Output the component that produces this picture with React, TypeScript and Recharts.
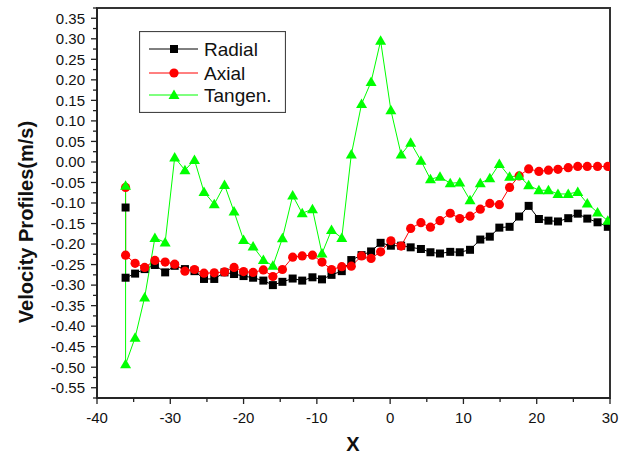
import React from 'react';
import { LineChart, Line, XAxis, YAxis, Legend, ReferenceArea } from 'recharts';

// positions along the channel (X)
const xValues = [
    -36.1, -34.8, -33.5, -32.1, -30.7, -29.4, -28.0, -26.7, -25.4, -24.0,
    -22.6, -21.3, -20.0, -18.7, -17.3, -16.0, -14.7, -13.3, -12.0, -10.6,
    -9.3, -8.0, -6.6, -5.3, -3.9, -2.6, -1.3, 0.1, 1.5, 2.8,
    4.2, 5.5, 6.8, 8.2, 9.5, 10.9, 12.3, 13.6, 14.9, 16.3,
    17.6, 18.9, 20.3, 21.6, 22.9, 24.3, 25.6, 26.9, 28.3, 29.7,
];

// each series starts with a separate reading at the first position
const radialFirst = -0.111;
const axialFirst = -0.062;
const tangenFirst = -0.058;

const radial = [
    -0.282, -0.272, -0.261, -0.251, -0.269, -0.253, -0.261, -0.266, -0.285, -0.285,
    -0.269, -0.273, -0.278, -0.282, -0.289, -0.300, -0.292, -0.284, -0.289, -0.281,
    -0.286, -0.275, -0.266, -0.239, -0.227, -0.218, -0.197, -0.204, -0.204, -0.208,
    -0.212, -0.220, -0.223, -0.219, -0.220, -0.214, -0.189, -0.182, -0.160, -0.158,
    -0.133, -0.107, -0.139, -0.143, -0.145, -0.137, -0.126, -0.138, -0.147, -0.158,
];

const axial = [
    -0.227, -0.247, -0.257, -0.240, -0.244, -0.249, -0.266, -0.262, -0.271, -0.270,
    -0.268, -0.257, -0.267, -0.269, -0.263, -0.279, -0.262, -0.232, -0.229, -0.227,
    -0.244, -0.262, -0.255, -0.254, -0.229, -0.235, -0.219, -0.192, -0.205, -0.162,
    -0.148, -0.159, -0.143, -0.125, -0.138, -0.132, -0.115, -0.101, -0.104, -0.062,
    -0.034, -0.017, -0.023, -0.020, -0.018, -0.014, -0.011, -0.011, -0.011, -0.011,
];

const tangen = [
    -0.493, -0.428, -0.330, -0.185, -0.196, 0.011, -0.020, 0.005, -0.073, -0.103,
    -0.056, -0.121, -0.190, -0.206, -0.239, -0.253, -0.186, -0.082, -0.125, -0.115,
    -0.223, -0.166, -0.185, 0.018, 0.141, 0.195, 0.295, 0.126, 0.018, 0.047,
    0.003, -0.042, -0.036, -0.052, -0.050, -0.093, -0.052, -0.040, -0.005, -0.036,
    -0.034, -0.057, -0.069, -0.069, -0.078, -0.078, -0.073, -0.101, -0.123, -0.143,
];

const xTicks = [-40, -35, -30, -25, -20, -15, -10, -5, 0, 5, 10, 15, 20, 25, 30];
const yTicks = [
    -0.575, -0.55, -0.525, -0.5, -0.475, -0.45, -0.425, -0.4, -0.375, -0.35,
    -0.325, -0.3, -0.275, -0.25, -0.225, -0.2, -0.175, -0.15, -0.125, -0.1,
    -0.075, -0.05, -0.025, 0, 0.025, 0.05, 0.075, 0.1, 0.125, 0.15,
    0.175, 0.2, 0.225, 0.25, 0.275, 0.3, 0.325, 0.35, 0.375,
];

const FONT = '"Liberation Sans", Arial, Helvetica, sans-serif';
const AXIS = '#222';

const toPoints = (first: number, values: number[]) => [
    { x: xValues[0], y: first },
    ...values.map((y, i) => ({ x: xValues[i], y })),
];

const radialData = toPoints(radialFirst, radial);
const axialData = toPoints(axialFirst, axial);
const tangenData = toPoints(tangenFirst, tangen);

const Square = ({ cx, cy, fill, size = 8 }: any) => (
    <rect x={cx - size / 2} y={cy - size / 2} width={size} height={size} fill={fill} />
);
const Dot = ({ cx, cy, fill }: any) => <circle cx={cx} cy={cy} r={4.6} fill={fill} />;
const Tri = ({ cx, cy, fill }: any) => (
    <polygon points={`${cx},${cy - 5.5} ${cx - 5.5},${cy + 4} ${cx + 5.5},${cy + 4}`} fill={fill} />
);

const YTick = ({ x, y, payload }: any) => {
    const v = payload.value;
    const major = Math.round(v * 1000) % 50 === 0;
    return (
        <g>
            <line x1={x - (major ? 6 : 4)} x2={x} y1={y} y2={y} stroke={AXIS} strokeWidth={1.3} />
            {major && (
                <text x={x - 12} y={y} dy={5.3} textAnchor="end" fontSize={15} fontFamily={FONT} fill="#111">
                    {v.toFixed(2)}
                </text>
            )}
        </g>
    );
};

const XTick = ({ x, y, payload }: any) => {
    const v = payload.value;
    const major = v % 10 === 0;
    return (
        <g>
            <line x1={x} x2={x} y1={y} y2={y + (major ? 6 : 4)} stroke={AXIS} strokeWidth={1.3} />
            {major && (
                <text x={x} y={y + 25} textAnchor="middle" fontSize={15} fontFamily={FONT} fill="#111">
                    {v}
                </text>
            )}
        </g>
    );
};

const LegendBox = () => {
    const rows = [
        { name: 'Radial', color: '#000', y: 18, mark: 'sq' },
        { name: 'Axial', color: '#ff0000', y: 42, mark: 'ci' },
        { name: 'Tangen.', color: '#00ff00', y: 64, mark: 'tr' },
    ];
    return (
        <svg width={147} height={82} style={{ display: 'block' }}>
            <rect x={0.5} y={0.5} width={146} height={81} fill="#fff" stroke="#444" strokeWidth={1.2} />
            {rows.map((r) => (
                <g key={r.name}>
                    <line x1={10} x2={59} y1={r.y} y2={r.y} stroke={r.color} strokeWidth={1} />
                    {r.mark === 'sq' && <Square cx={35} cy={r.y} fill={r.color} />}
                    {r.mark === 'ci' && <Dot cx={35} cy={r.y} fill={r.color} />}
                    {r.mark === 'tr' && <Tri cx={35} cy={r.y} fill={r.color} />}
                    <text x={65} y={r.y + 7} fontSize={19} fontFamily={FONT} fill="#111">
                        {r.name}
                    </text>
                </g>
            ))}
        </svg>
    );
};

const yTitle = () => (
    <text x={33} y={222} transform="rotate(-90, 33, 222)" textAnchor="middle" fontSize={20}
        fontWeight="bold" fontFamily={FONT} fill="#111">
        Velocity Profiles(m/s)
    </text>
);

const xTitle = () => (
    <text x={353} y={451} textAnchor="middle" fontSize={20} fontWeight="bold" fontFamily={FONT} fill="#111">
        X
    </text>
);

export default function App() {
    return (
        <div style={{ position: 'absolute', left: 0, top: 0, width: 629, height: 456, background: '#fff' }}>
            <LineChart width={629} height={456} margin={{ top: 8, right: 19, bottom: 0, left: 0 }}>
                <XAxis
                    type="number"
                    dataKey="x"
                    domain={[-40, 30]}
                    ticks={xTicks}
                    interval={0}
                    height={58}
                    tickSize={0}
                    tickMargin={0}
                    tickLine={false}
                    tick={<XTick />}
                    axisLine={{ stroke: AXIS, strokeWidth: 1.6 }}
                    label={xTitle}
                    allowDataOverflow
                />
                <YAxis
                    type="number"
                    dataKey="y"
                    domain={[-0.575, 0.375]}
                    ticks={yTicks}
                    interval={0}
                    width={97}
                    tickSize={0}
                    tickMargin={0}
                    tickLine={false}
                    tick={<YTick />}
                    axisLine={{ stroke: AXIS, strokeWidth: 1.6 }}
                    label={yTitle}
                    allowDataOverflow
                />
                <ReferenceArea x1={-40} x2={30} y1={-0.575} y2={0.375} fill="none" stroke="#333" strokeWidth={2} />
                <Line data={radialData} dataKey="y" stroke="#000" strokeWidth={1}
                    dot={(p: any) => <Square key={`r${p.index}`} cx={p.cx} cy={p.cy} fill="#000" />}
                    activeDot={false} isAnimationActive={false} />
                <Line data={axialData} dataKey="y" stroke="#ff0000" strokeWidth={1}
                    dot={(p: any) => <Dot key={`a${p.index}`} cx={p.cx} cy={p.cy} fill="#ff0000" />}
                    activeDot={false} isAnimationActive={false} />
                <Line data={tangenData} dataKey="y" stroke="#00ff00" strokeWidth={1}
                    dot={(p: any) => <Tri key={`t${p.index}`} cx={p.cx} cy={p.cy} fill="#00ff00" />}
                    activeDot={false} isAnimationActive={false} />
                <Legend
                    layout="horizontal"
                    verticalAlign="middle"
                    align="center"
                    content={<LegendBox />}
                    wrapperStyle={{ left: 139, top: 31, width: 147, height: 82 }}
                />
            </LineChart>
        </div>
    );
}
